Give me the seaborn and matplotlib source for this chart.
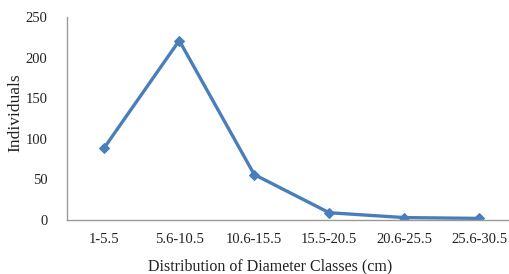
import pandas as pd
import seaborn as sns
import matplotlib.pyplot as plt

# Dados
classes = ["1-5.5", "5.6-10.5", "10.6-15.5", "15.5-20.5", "20.6-25.5", "25.6-30.5"]
individuals = [89, 221, 56, 9, 3, 2]
y_ticks = [0, 50, 100, 150, 200, 250]

sns.set_style("white")
plt.rcParams['font.family'] = ['Liberation Serif', 'DejaVu Serif']

df = pd.DataFrame({"classe": classes, "individuos": individuals})

fig = plt.figure(figsize=(5.1, 2.74), dpi=100)
ax = fig.add_axes([0.131, 0.197, 0.882, 0.741])

sns.lineplot(data=df, x="classe", y="individuos", sort=False, ax=ax,
             color="#4a7ebb", linewidth=2.4, marker="D", markersize=5,
             markeredgecolor="#4a7ebb")

ax.set_xlim(-0.5, len(classes) - 0.5)
ax.set_ylim(0, 250)
ax.set_yticks(y_ticks)
ax.tick_params(axis="both", length=0, labelsize=10.5, colors="#222222")
ax.tick_params(axis="y", pad=14)
ax.tick_params(axis="x", pad=9)

for side in ["top", "right"]:
    ax.spines[side].set_visible(False)
for side in ["left", "bottom"]:
    ax.spines[side].set_color("#9a9a9a")
    ax.spines[side].set_linewidth(1.0)

ax.set_xlabel("Distribution of Diameter Classes (cm)", fontsize=11.5, color="#222222")
ax.set_ylabel("Individuals", fontsize=12.5, color="#222222")
ax.xaxis.set_label_coords(0.451, -0.19)
ax.yaxis.set_label_coords(-0.096, 0.53)

fig.savefig("out.png", dpi=100)
